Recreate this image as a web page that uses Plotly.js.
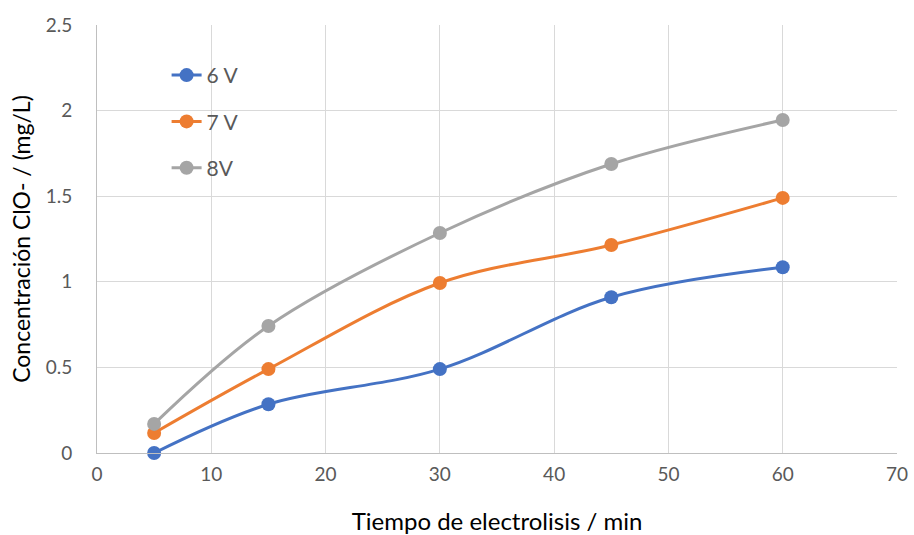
<!DOCTYPE html>
<html>
<head>
<meta charset="utf-8">
<script src="https://cdn.plot.ly/plotly-3.0.1.min.js"></script>
<style>html,body{margin:0;padding:0;background:#fff;}#chart{width:914px;height:535px;}</style>
</head>
<body>
<div id="chart"></div>
<script>
const tiempo = [5, 15, 30, 45, 60];
const v6 = [0.00, 0.285, 0.49, 0.91, 1.085];
const v7 = [0.117, 0.49, 0.993, 1.215, 1.49];
const v8 = [0.17, 0.742, 1.285, 1.688, 1.945];
const seriesNames = ['6 V', '7 V', '8V'];
const seriesColors = ['#4472C4', '#ED7D31', '#A5A5A5'];
const seriesValues = [v6, v7, v8];

const traces = seriesValues.map((vals, i) => ({
  x: tiempo, y: vals, name: seriesNames[i], type: 'scatter', mode: 'lines+markers',
  line: {color: seriesColors[i], width: 3, shape: 'spline', smoothing: 1},
  marker: {color: seriesColors[i], size: 14},
  legendgroup: 'g' + i, cliponaxis: false
}));

const font = "Lato, 'Noto Sans', sans-serif";
const layout = {
  width: 914, height: 535,
  margin: {l: 97, r: 17, t: 25, b: 82},
  paper_bgcolor: '#fff', plot_bgcolor: '#fff',
  font: {family: font, color: '#595959', size: 19},
  xaxis: {
    range: [0, 70], dtick: 10, tick0: 0, showgrid: true, gridcolor: '#d9d9d9', gridwidth: 1,
    showline: true, linecolor: '#bfbfbf', linewidth: 1, zeroline: false, ticks: '',
    tickfont: {size: 19, color: '#595959', family: font}, ticklabelstandoff: 4,
    title: {text: 'Tiempo de electrolisis / min', font: {size: 24, color: '#000', family: font}, standoff: 31}
  },
  yaxis: {
    range: [0, 2.5], dtick: 0.5, tick0: 0, showgrid: true, gridcolor: '#d9d9d9', gridwidth: 1,
    showline: true, linecolor: '#bfbfbf', linewidth: 1, zeroline: false, ticks: '',
    tickfont: {size: 19, color: '#595959', family: font}, ticklabelstandoff: 20,
    title: {text: 'Concentración ClO- / (mg/L)', font: {size: 23, color: '#000', family: font}, standoff: 8}
  },
  showlegend: true,
  legend: {
    x: 0.087, y: 0.93, xanchor: 'left', yanchor: 'top', bgcolor: 'rgba(0,0,0,0)',
    font: {size: 21, color: '#595959', family: font}, traceorder: 'grouped', tracegroupgap: 16,
    itemwidth: 30
  }
};
Plotly.newPlot('chart', traces, layout, {displayModeBar: false, staticPlot: true});
</script>
</body>
</html>
